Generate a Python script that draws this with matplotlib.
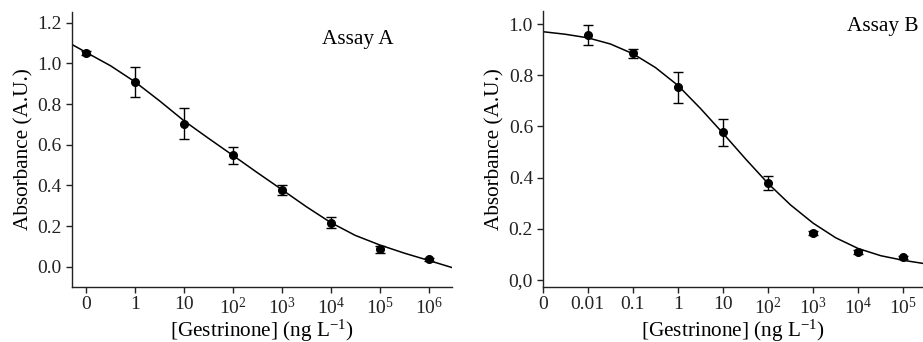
import matplotlib
matplotlib.use("Agg")
import matplotlib.pyplot as plt

plt.rcParams['font.family'] = ['Liberation Serif', 'DejaVu Serif']
plt.rcParams['mathtext.fontset'] = 'custom'
plt.rcParams['mathtext.rm'] = 'Liberation Serif'
plt.rcParams['mathtext.it'] = 'Liberation Serif:italic'

# ---------------- Assay A ----------------
a_labels = ["0", "1", "10", "10$^{2}$", "10$^{3}$", "10$^{4}$", "10$^{5}$", "10$^{6}$"]
a_pos = [0, 1, 2, 3, 4, 5, 6, 7]
a_y = [1.052, 0.909, 0.704, 0.549, 0.379, 0.217, 0.087, 0.038]
a_err = [0.010, 0.073, 0.075, 0.042, 0.025, 0.028, 0.018, 0.008]
a_curve_x = [-0.292, 0, 0.5, 1, 1.5, 2, 2.5, 3, 3.5, 4, 4.5, 5, 5.5, 6, 6.5, 7, 7.477]
a_curve_y = [1.093, 1.054, 0.988, 0.909, 0.816, 0.718, 0.632, 0.548, 0.463, 0.380,
             0.296, 0.218, 0.155, 0.108, 0.068, 0.032, -0.003]
a_yticks = [0.0, 0.2, 0.4, 0.6, 0.8, 1.0, 1.2]
a_ytlabels = ["0.0", "0.2", "0.4", "0.6", "0.8", "1.0", "1.2"]

# ---------------- Assay B ----------------
b_labels = ["0", "0.01", "0.1", "1", "10", "10$^{2}$", "10$^{3}$", "10$^{4}$", "10$^{5}$"]
b_tick_pos = [0, 1, 2, 3, 4, 5, 6, 7, 8]
b_pos = [1, 2, 3, 4, 5, 6, 7, 8]
b_y = [0.957, 0.885, 0.752, 0.577, 0.379, 0.184, 0.108, 0.089]
b_err = [0.040, 0.019, 0.060, 0.053, 0.026, 0.008, 0.008, 0.006]
b_curve_x = [0, 0.5, 1, 1.5, 2, 2.5, 3, 3.5, 4, 4.5, 5, 5.5, 6, 6.5, 7, 7.5, 8, 8.436]
b_curve_y = [0.970, 0.960, 0.946, 0.922, 0.884, 0.830, 0.760, 0.670, 0.573, 0.473,
             0.377, 0.293, 0.222, 0.165, 0.123, 0.095, 0.077, 0.065]
b_yticks = [0.0, 0.2, 0.4, 0.6, 0.8, 1.0]
b_ytlabels = ["0,0", "0.2", "0.4", "0.6", "0.8", "1.0"]

xlabel = "[Gestrinone] (ng L$^{\\mathregular{-1}}$)"
ylabel = "Absorbance (A.U.)"

fig = plt.figure(figsize=(9.23, 3.42), dpi=100)
axA = fig.add_axes([0.0777, 0.1617, 0.4120, 0.8033])
axB = fig.add_axes([0.5880, 0.1617, 0.4120, 0.8063])

TICK_FS = 14
LABEL_FS = 15.3


def style(ax):
    for s in ("top", "right"):
        ax.spines[s].set_visible(False)
    for s in ("left", "bottom"):
        ax.spines[s].set_linewidth(1.0)
        ax.spines[s].set_color("#222222")
    ax.tick_params(direction="out", length=4, width=1.0, colors="#222222",
                   labelsize=TICK_FS, labelcolor="#222222", pad=3)


# Panel A
axA.plot(a_curve_x, a_curve_y, color="black", lw=1.1, zorder=2)
axA.errorbar(a_pos, a_y, yerr=a_err, fmt="o", color="black", ms=5.5,
             capsize=3.5, elinewidth=1.0, capthick=1.0, zorder=3)
axA.set_xlim(-0.292, 7.477)
axA.set_ylim(-0.097, 1.252)
axA.set_xticks(a_pos)
axA.set_xticklabels(a_labels)
axA.set_yticks(a_yticks)
axA.set_yticklabels(a_ytlabels)
axA.set_xlabel(xlabel, fontsize=LABEL_FS, labelpad=0)
axA.set_ylabel(ylabel, fontsize=LABEL_FS, labelpad=3)
axA.text(5.55, 1.118, "Assay A", fontsize=LABEL_FS, ha="center", va="center")
style(axA)

# Panel B
axB.plot(b_curve_x, b_curve_y, color="black", lw=1.1, zorder=2)
axB.errorbar(b_pos, b_y, yerr=b_err, fmt="o", color="black", ms=5.5,
             capsize=3.5, elinewidth=1.0, capthick=1.0, zorder=3)
axB.set_xlim(0, 8.436)
axB.set_ylim(-0.026, 1.051)
axB.set_xticks(b_tick_pos)
axB.set_xticklabels(b_labels)
axB.set_yticks(b_yticks)
axB.set_yticklabels(b_ytlabels)
axB.set_xlabel(xlabel, fontsize=LABEL_FS, labelpad=0)
axB.set_ylabel(ylabel, fontsize=LABEL_FS, labelpad=3)
axB.text(8.33, 0.992, "Assay B", fontsize=LABEL_FS, ha="right", va="center")
style(axB)

fig.savefig("out.png", dpi=100, facecolor="white")
